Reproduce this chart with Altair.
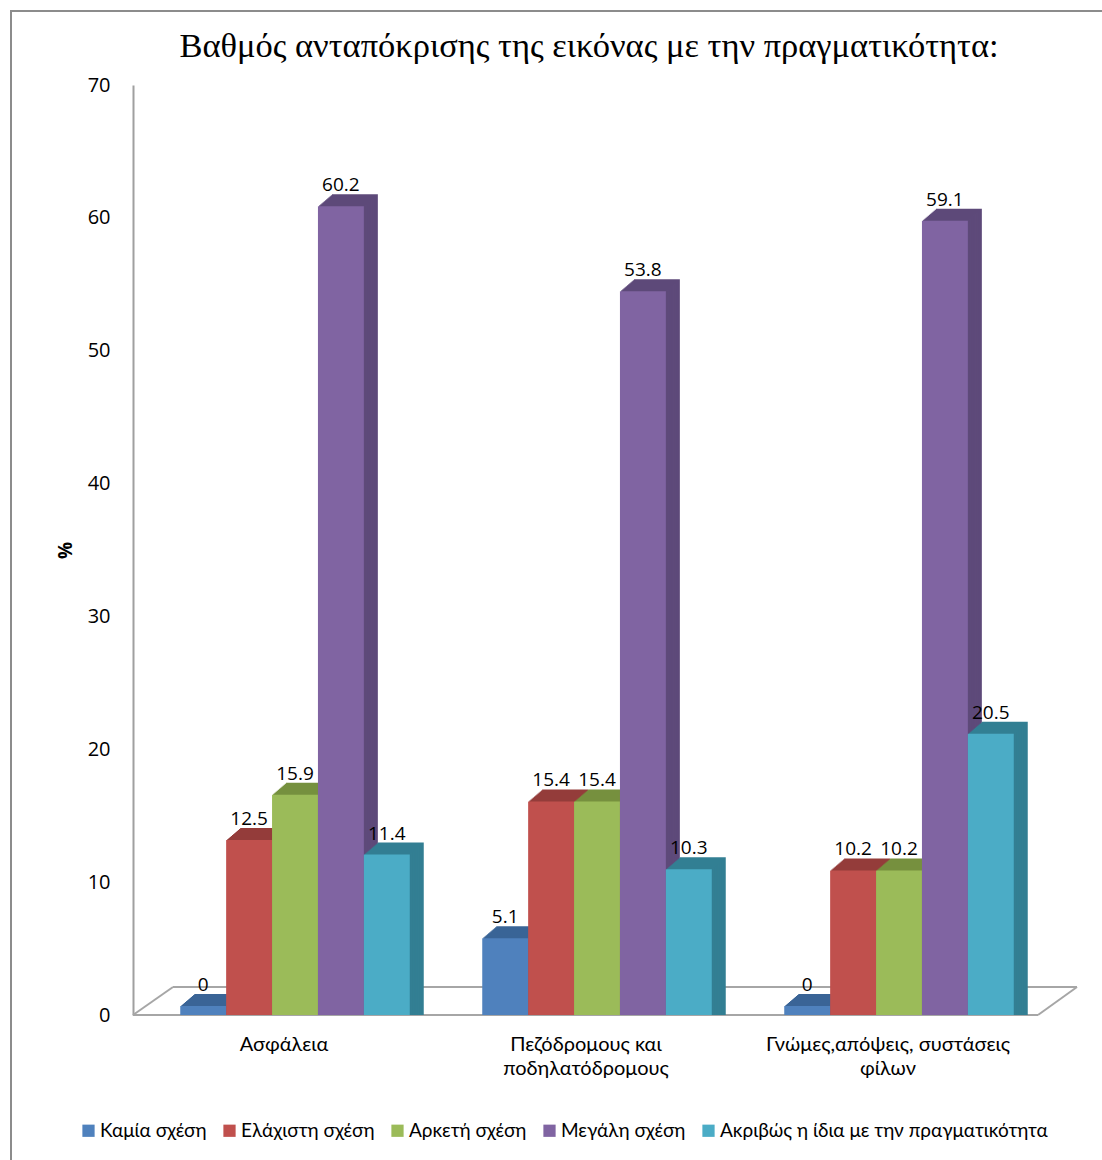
import json
import altair as alt
import pandas as pd

# ---------------- data ----------------
categories = [
    "Ασφάλεια",
    "Πεζόδρομους και ποδηλατόδρομους",
    "Γνώμες,απόψεις, συστάσεις φίλων",
]
category_lines = [
    ["Ασφάλεια"],
    ["Πεζόδρομους και", "ποδηλατόδρομους"],
    ["Γνώμες,απόψεις, συστάσεις", "φίλων"],
]
series = [
    "Καμία σχέση",
    "Ελάχιστη σχέση",
    "Αρκετή σχέση",
    "Μεγάλη σχέση",
    "Ακριβώς η ίδια με την πραγματικότητα",
]
v_kamia = [0, 5.1, 0]
v_elaxisti = [12.5, 15.4, 10.2]
v_arketi = [15.9, 15.4, 10.2]
v_megali = [60.2, 53.8, 59.1]
v_akrivos = [11.4, 10.3, 20.5]
y_ticks = [0, 10, 20, 30, 40, 50, 60, 70]

front_colors = ["#4F81BD", "#C0504D", "#9BBB59", "#8064A2", "#4BACC6"]
side_colors = ["#3A6496", "#943C3A", "#76903F", "#5E4A7A", "#337F93"]

title_text = "Βαθμός ανταπόκρισης της εικόνας με την πραγματικότητα:"

rows = []
for i, c in enumerate(categories):
    for s, vals in zip(series, [v_kamia, v_elaxisti, v_arketi, v_megali, v_akrivos]):
        rows.append({"cat": c, "series": s, "value": vals[i]})
df = pd.DataFrame(rows)

# ---------------- layout ----------------
W, H = 906, 930
P_IN, P_OUT = 0.24, 0.12
BAND = W / 3 * (1 - P_IN)
BASE_SHIFT = -9      # front face lifted above the floor edge
DEPTH_X, DEPTH_Y = 14, 12
STEPS = 12

label_map = {c: l for c, l in zip(categories, category_lines)}
label_expr = json.dumps(label_map, ensure_ascii=False) + "[datum.label]"

x_scale = alt.Scale(paddingInner=P_IN, paddingOuter=P_OUT)
y_scale = alt.Scale(domain=[0, 70], nice=False)

x_axis = alt.Axis(
    domain=False, ticks=False, labelAngle=0, title=None,
    labelFont="Lato", labelFontSize=20, labelColor="black",
    labelPadding=19, labelLineHeight=24, labelExpr=label_expr,
    labelOffset=-11, labelLimit=0,
)
y_axis = alt.Axis(
    values=y_ticks, grid=False, ticks=False, domain=True,
    domainColor="#A0A0A0", domainWidth=2, offset=11,
    labelFont="Open Sans", labelFontSize=20, labelColor="black", labelPadding=23,
    title="%", titleFont="Open Sans", titleFontSize=19, titleFontWeight="bold",
    titleColor="black", titlePadding=12,
)

X = alt.X("cat:N", sort=categories, scale=x_scale, axis=x_axis)
Y = alt.Y("value:Q", stack=False, scale=y_scale, axis=y_axis)

base = alt.Chart(df)

frame = alt.Chart(pd.DataFrame({"k": [0]})).mark_rect(
    fillOpacity=0, stroke="#8C8C8C", strokeWidth=2
).encode(
    x=alt.value(-133), x2=alt.value(1000), y=alt.value(-74), y2=alt.value(1120)
)

floor_src = alt.Chart(pd.DataFrame({"k": [0]}))
floor_style = dict(color="#A6A6A6", strokeWidth=2)
floor = [
    floor_src.mark_rule(**floor_style).encode(
        x=alt.value(-11), x2=alt.value(894), y=alt.value(930), y2=alt.value(930)),
    floor_src.mark_rule(**floor_style).encode(
        x=alt.value(29), x2=alt.value(933), y=alt.value(902), y2=alt.value(902)),
    floor_src.mark_rule(**floor_style).encode(
        x=alt.value(-11), x2=alt.value(29), y=alt.value(930), y2=alt.value(902)),
    floor_src.mark_rule(**floor_style).encode(
        x=alt.value(894), x2=alt.value(933), y=alt.value(930), y2=alt.value(902)),
]

depth_layers = []
for k in range(STEPS, 0, -1):
    dx = DEPTH_X * k / STEPS
    dy = BASE_SHIFT - DEPTH_Y * k / STEPS
    depth_layers.append(
        base.mark_bar(yOffset=dy, y2Offset=dy).encode(
            x=X,
            xOffset=alt.XOffset("series:N", sort=series,
                                scale=alt.Scale(range=[dx, dx + BAND])),
            y=Y,
            color=alt.Color("series:N", sort=series, legend=None,
                            scale=alt.Scale(domain=series, range=side_colors)),
        )
    )

front = base.mark_bar(yOffset=BASE_SHIFT, y2Offset=BASE_SHIFT).encode(
    x=X,
    xOffset=alt.XOffset("series:N", sort=series, scale=alt.Scale(range=[0, BAND])),
    y=Y,
    color=alt.Color(
        "series:N", sort=series,
        scale=alt.Scale(domain=series, range=front_colors),
        legend=alt.Legend(
            title=None, orient="none", direction="horizontal",
            legendX=-65, legendY=1036,
            symbolType="square", symbolSize=150, symbolStrokeWidth=0,
            labelFont="Lato", labelFontSize=19, labelColor="black",
            labelOffset=2, columnPadding=13, labelLimit=0,
        ),
    ),
)

labels = base.mark_text(
    dy=BASE_SHIFT - 15, baseline="alphabetic", font="Open Sans", fontSize=19, color="black"
).encode(
    x=X,
    xOffset=alt.XOffset("series:N", sort=series, scale=alt.Scale(range=[0, BAND])),
    y=Y,
    text=alt.Text("value:Q", format=".1~f"),
)

chart = alt.layer(frame, *floor, *depth_layers, front, labels).resolve_scale(
    xOffset="independent", color="independent"
).properties(
    width=W, height=H,
    background="white",
    title=alt.TitleParams(
        title_text, font="Liberation Serif", fontSize=34.5, fontWeight="normal",
        color="black", anchor="middle", offset=-54, dx=-8,
    ),
    autosize=alt.AutoSizeParams(type="none"),
    padding={"left": 144, "top": 85, "right": 52, "bottom": 145},
).configure_view(stroke="transparent", strokeWidth=0)

chart.save("out.html", embed_options={"renderer": "svg", "actions": False})
